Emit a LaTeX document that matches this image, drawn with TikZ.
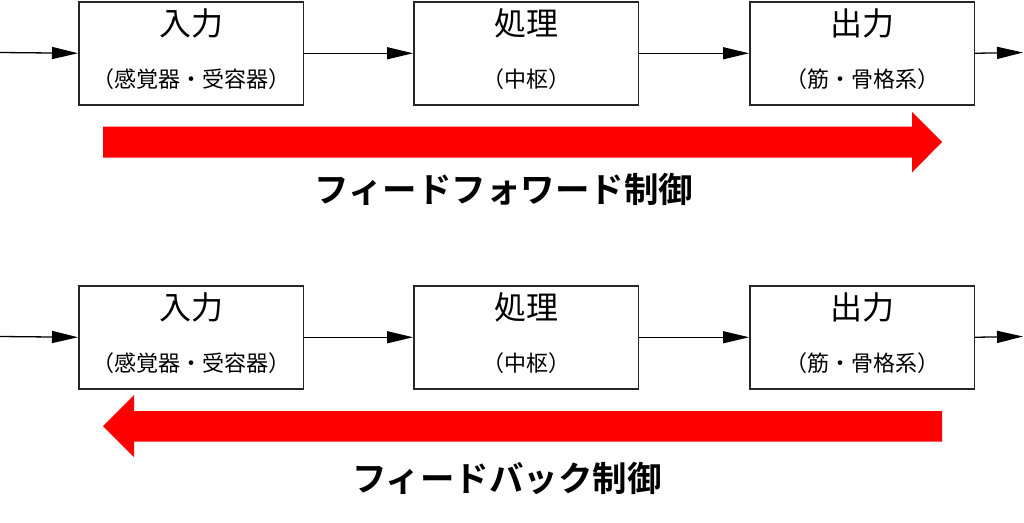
\documentclass[tikz,border=0pt]{standalone}
\usepackage{fontspec}
\setmainfont{Noto Sans CJK JP}[BoldFont={Noto Sans CJK JP Bold}]
\usetikzlibrary{arrows.meta}
\begin{document}
\begin{tikzpicture}[x=1pt,y=-1pt,
  blk/.style={draw=black!85,line width=1.5pt,minimum width=224.5pt,minimum height=103pt,inner sep=0pt,anchor=north west},
  ttl/.style={font=\fontsize{32}{32}\selectfont,inner sep=0pt},
  sub/.style={font=\fontsize{22}{22}\selectfont,inner sep=0pt},
  conn/.style={line width=1.3pt,-{Triangle[length=26pt,width=12pt]}},
  lbl/.style={font=\bfseries\fontsize{34.5}{34.5}\selectfont,inner sep=0pt},
  bigarrow/.style={fill=red}]
\useasboundingbox (0,0) rectangle (1024,522);
% top row
\node[blk] (in1) at (78,1) {};
\node[blk] (proc1) at (413,1) {};
\node[blk] (out1) at (749,1) {};
% bottom row
\node[blk] (in2) at (78,285) {};
\node[blk] (proc2) at (413,285) {};
\node[blk] (out2) at (749,285) {};
% texts
\foreach \r in {1,2}{
  \node[ttl] (tin\r) at ([yshift=-22pt]in\r.north) {入力};
  \node[sub] (sin\r) at ([yshift=-78pt]in\r.north) {（感覚器・受容器）};
  \node[ttl] (tproc\r) at ([yshift=-22pt]proc\r.north) {処理};
  \node[sub] (sproc\r) at ([yshift=-78pt]proc\r.north) {（中枢）};
  \node[ttl] (tout\r) at ([yshift=-22pt]out\r.north) {出力};
  \node[sub] (sout\r) at ([yshift=-78pt]out\r.north) {（筋・骨格系）};
}
% connectors
\coordinate (s1) at (0,52.5);
\coordinate (e1) at (1023,52.5);
\coordinate (s2) at (0,336.5);
\coordinate (e2) at (1023,336.5);
\draw[conn] (s1) -- (in1.west);
\draw[conn] (in1.east) -- (proc1.west);
\draw[conn] (proc1.east) -- (out1.west);
\draw[conn] (out1.east) -- (e1);
\draw[conn] (s2) -- (in2.west);
\draw[conn] (in2.east) -- (proc2.west);
\draw[conn] (proc2.east) -- (out2.west);
\draw[conn] (out2.east) -- (e2);
% big red arrows
\fill[bigarrow] (103,126.5) -- (912,126.5) -- (912,112) -- (942,142) -- (912,172.5) -- (912,157.5) -- (103,157.5) -- cycle;
\fill[bigarrow] (942,411) -- (134,411) -- (134,395) -- (103,426) -- (134,457) -- (134,441.5) -- (942,441.5) -- cycle;
% labels
\node[lbl] (ff) at (504,189) {フィードフォワード制御};
\node[lbl] (fb) at (507,478) {フィードバック制御};
\end{tikzpicture}
\end{document}
